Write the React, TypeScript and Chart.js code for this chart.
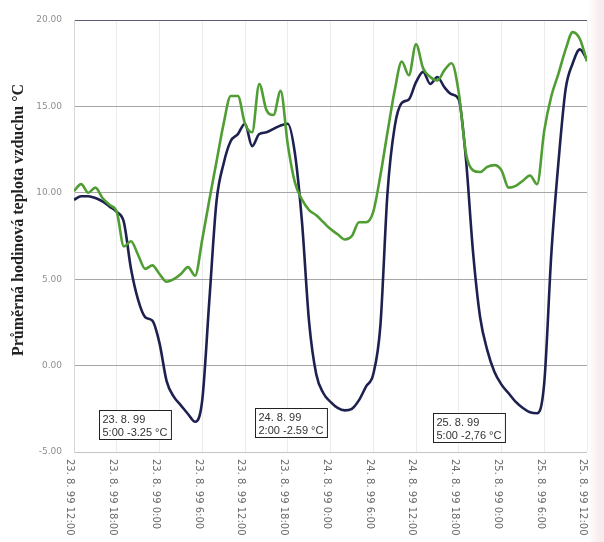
import React, { useEffect, useRef } from 'react';
import { Chart, registerables } from 'chart.js';

Chart.register(...registerables);

// Hourly mean air temperature, starting 23. 8. 99 12:00 (one value per hour, 73 hours)
const navySeries = [
  9.6, 9.8, 9.8, 9.7, 9.5, 9.2, 8.9, 8.3, 5.6, 3.8,
  2.8, 2.6, 1.3, -0.9, -1.8, -2.3, -2.8, -3.25, -2.0, 3.8,
  9.5, 11.7, 13.0, 13.4, 14.0, 12.7, 13.4, 13.5, 13.7, 13.9,
  14.0, 12.3, 8.3, 2.5, -0.5, -1.6, -2.1, -2.45, -2.59, -2.5,
  -2.0, -1.2, -0.5, 2.3, 10.0, 13.8, 15.2, 15.4, 16.4, 17.0,
  16.3, 16.7, 16.1, 15.7, 15.4, 12.0, 6.6, 2.8, 0.9, -0.35,
  -1.1, -1.6, -2.1, -2.45, -2.7, -2.76, -1.0, 6.5, 11.8, 16.0,
  17.5, 18.3, 17.7,
];

const greenSeries = [
  10.1, 10.5, 10.0, 10.3, 9.7, 9.3, 8.9, 6.9, 7.2, 6.4,
  5.6, 5.8, 5.3, 4.85, 5.0, 5.3, 5.7, 5.2, 7.3, 9.6,
  11.8, 14.0, 15.6, 15.6, 14.0, 13.5, 16.3, 14.8, 14.5, 15.9,
  12.8, 10.6, 9.6, 9.0, 8.7, 8.3, 7.9, 7.6, 7.3, 7.5,
  8.3, 8.3, 8.9, 11.0, 13.5, 15.9, 17.6, 16.8, 18.6, 17.2,
  16.7, 16.5, 17.1, 17.5, 15.8, 12.3, 11.3, 11.2, 11.5, 11.6,
  11.3, 10.3, 10.4, 10.7, 11.0, 10.5, 13.6, 15.6, 16.9, 18.3,
  19.3, 18.9, 17.6,
];

// Axis labels, one every 6 hours
const tickLabels = [
  '23. 8. 99 12:00', '23. 8. 99 18:00', '23. 8. 99 0:00', '23. 8. 99 6:00',
  '23. 8. 99 12:00', '23. 8. 99 18:00', '24. 8. 99 0:00', '24. 8. 99 6:00',
  '24. 8. 99 12:00', '24. 8. 99 18:00', '25. 8. 99 0:00', '25. 8. 99 6:00',
  '25. 8. 99 12:00',
];
const tickStepHours = 6;

const yTitle = 'Průměrná hodinová teplota vzduchu °C';

// Minimum callouts: hour index on the navy series and the two text lines
const minHours = [17, 38, 65];
const minDates = ['23. 8. 99', '24. 8. 99', '25. 8. 99'];
const minTimes = ['5:00', '2:00', '5:00'];
const minTexts = ['-3.25 °C', '-2.59 °C', '-2,76 °C'];
// box placement relative to the marked point (px)
const calloutOffsets = [
  { dx: -96, dy: -12 },
  { dx: -90, dy: -2 },
  { dx: -104, dy: 0 },
];

const xTickLabelPlugin = {
  id: 'xTickLabels',
  afterDraw(chart: any) {
    const { ctx, scales } = chart;
    const x = scales.x;
    ctx.save();
    ctx.font = '10px "DejaVu Sans"';
    ctx.fillStyle = '#6a6a6a';
    ctx.textAlign = 'left';
    ctx.textBaseline = 'middle';
    tickLabels.forEach((lbl, i) => {
      const px = x.getPixelForValue(i * tickStepHours) - 4;
      ctx.save();
      ctx.translate(px, chart.chartArea.bottom + 7);
      ctx.rotate(Math.PI / 2);
      ctx.fillText(lbl, 0, 0);
      ctx.restore();
    });
    ctx.restore();
  },
};

const yTitlePlugin = {
  id: 'yTitle',
  afterDraw(chart: any) {
    const { ctx, chartArea } = chart;
    ctx.save();
    ctx.font = 'bold 16px "Liberation Serif"';
    ctx.fillStyle = '#222';
    ctx.textAlign = 'center';
    ctx.textBaseline = 'middle';
    ctx.translate(19, (chartArea.top + chartArea.bottom) / 2 - 16);
    ctx.rotate(-Math.PI / 2);
    ctx.fillText(yTitle, 0, 0);
    ctx.restore();
  },
};

const calloutPlugin = {
  id: 'minCallouts',
  afterDatasetsDraw(chart: any) {
    const { ctx } = chart;
    const meta = chart.getDatasetMeta(0);
    ctx.save();
    ctx.font = '11px "Liberation Sans"';
    minHours.forEach((h, i) => {
      const pt = meta.data[h];
      const line1 = minDates[i];
      const line2 = `${minTimes[i]} ${minTexts[i]}`;
      const w = Math.max(ctx.measureText(line1).width, ctx.measureText(line2).width) + 7;
      const hgt = 29;
      const bx = Math.round(pt.x + calloutOffsets[i].dx) + 0.5;
      const by = Math.round(pt.y + calloutOffsets[i].dy) + 0.5;
      ctx.fillStyle = '#fff';
      ctx.fillRect(bx, by, w, hgt);
      ctx.strokeStyle = '#222';
      ctx.lineWidth = 1;
      ctx.strokeRect(bx, by, w, hgt);
      ctx.fillStyle = '#333';
      ctx.textAlign = 'left';
      ctx.textBaseline = 'alphabetic';
      ctx.fillText(line1, bx + 3, by + 12);
      ctx.fillText(line2, bx + 3, by + 25);
    });
    ctx.restore();
  },
};

export default function App() {
  const canvasRef = useRef<HTMLCanvasElement | null>(null);

  useEffect(() => {
    if (!canvasRef.current) return;
    const toPoints = (arr: number[]) => arr.map((v, i) => ({ x: i, y: v }));
    const chart = new Chart(canvasRef.current, {
      type: 'line',
      data: {
        datasets: [
          {
            data: toPoints(navySeries),
            borderColor: '#1e2150',
            borderWidth: 2.6,
            pointRadius: 0,
            cubicInterpolationMode: 'monotone',
            order: 1,
          },
          {
            data: toPoints(greenSeries),
            borderColor: '#4f9d33',
            borderWidth: 2.6,
            pointRadius: 0,
            cubicInterpolationMode: 'monotone',
            order: 0,
          },
        ],
      },
      options: {
        responsive: false,
        animation: false,
        layout: { padding: { top: 20, right: 17, left: 0, bottom: 0 } },
        plugins: {
          legend: { display: false },
          tooltip: { enabled: false },
          title: { display: false },
        },
        scales: {
          x: {
            type: 'linear',
            min: 0,
            max: (tickLabels.length - 1) * tickStepHours,
            ticks: { display: false, stepSize: tickStepHours },
            grid: { color: '#ececec', lineWidth: 1, drawTicks: false },
            border: { display: false },
            afterFit: (s: any) => {
              s.height = 90;
            },
          },
          y: {
            min: -5,
            max: 20,
            ticks: {
              stepSize: 5,
              padding: 12,
              color: '#8f8f8f',
              font: { family: 'DejaVu Sans', size: 9 },
              callback: (v: any) => Number(v).toFixed(2),
            },
            grid: {
              drawTicks: false,
              lineWidth: 1,
              color: (c: any) => {
                const v = c.tick && c.tick.value;
                if (v === 20) return '#5c5e78';
                if (v === -5) return '#c4c4c4';
                return '#a6a6a6';
              },
            },
            border: { display: true, color: '#d6d6d6' },
            afterFit: (s: any) => {
              s.width = 74;
            },
          },
        },
      },
      plugins: [xTickLabelPlugin, yTitlePlugin, calloutPlugin],
    } as any);
    return () => chart.destroy();
  }, []);

  return (
    <div
      style={{
        position: 'absolute',
        left: 0,
        top: 0,
        width: 604,
        height: 542,
        background: 'linear-gradient(to right, #ffffff 0px, #ffffff 588px, #f8eef0 598px, #f6eaec 604px)',
      }}
    >
      <canvas ref={canvasRef} width={604} height={542} />
    </div>
  );
}
